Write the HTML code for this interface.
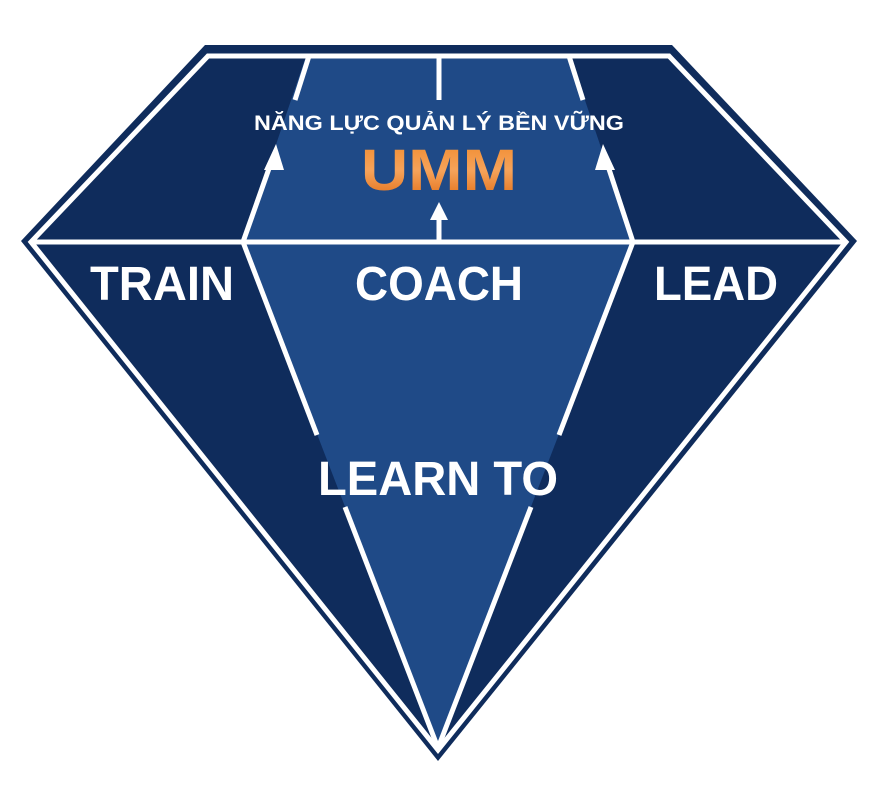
<!DOCTYPE html>
<html><head><meta charset="utf-8"><style>html,body{margin:0;padding:0;background:#fff;width:876px;height:800px;overflow:hidden}</style></head>
<body>
<svg width="876" height="800" viewBox="0 0 876 800" xmlns="http://www.w3.org/2000/svg">
<defs>
<linearGradient id="og" x1="0" y1="0" x2="0" y2="1"><stop offset="0" stop-color="#f08a2c"/><stop offset="0.5" stop-color="#f6a35a"/><stop offset="1" stop-color="#e06a12"/></linearGradient>
</defs>
<polygon points="205,45 672,45 857,241 438,761 21,241" fill="#0f2c5c"/>
<polygon points="306,56 570,56 633,242 438,748 243,242" fill="#1f4a87"/>
<g stroke="#fff" stroke-width="5" fill="none" stroke-linejoin="miter">
<polygon points="208,56 669,56 846,242 438,750 31,242"/>
<line x1="34" y1="242" x2="843" y2="242"/>
<line x1="243" y1="242" x2="317" y2="435"/>
<line x1="345" y1="507" x2="438" y2="748"/>
<line x1="633" y1="242" x2="559" y2="435"/>
<line x1="531" y1="507" x2="438" y2="748"/>
<line x1="243" y1="242" x2="272" y2="160"/>
<line x1="295" y1="100" x2="309" y2="56"/>
<line x1="633" y1="242" x2="606" y2="160"/>
<line x1="583" y1="100" x2="569" y2="56"/>
<line x1="439" y1="56" x2="439" y2="100"/>
<line x1="439" y1="242" x2="439" y2="215"/>
</g>
<g fill="#fff">
<polygon points="264,170 284,170 276,144"/>
<polygon points="595,170 615,170 603,144"/>
<polygon points="430,220 448,220 439,202"/>
</g>
<g font-family="'Liberation Sans','DejaVu Sans',sans-serif" font-weight="bold" fill="#fff">
<text x="439" y="130" font-size="21" text-anchor="middle" textLength="370" lengthAdjust="spacingAndGlyphs">NĂNG LỰC QUẢN LÝ BỀN VỮNG</text>
<text x="439" y="190" font-size="58" text-anchor="middle" fill="url(#og)" textLength="156" lengthAdjust="spacingAndGlyphs">UMM</text>
<text x="90" y="300" font-size="48" textLength="144" lengthAdjust="spacingAndGlyphs">TRAIN</text>
<text x="355" y="300" font-size="48" textLength="168" lengthAdjust="spacingAndGlyphs">COACH</text>
<text x="654" y="300" font-size="48" textLength="124" lengthAdjust="spacingAndGlyphs">LEAD</text>
<text x="438" y="495" font-size="48" text-anchor="middle" textLength="240" lengthAdjust="spacingAndGlyphs">LEARN TO</text>
</g>
</svg>
</body></html>
